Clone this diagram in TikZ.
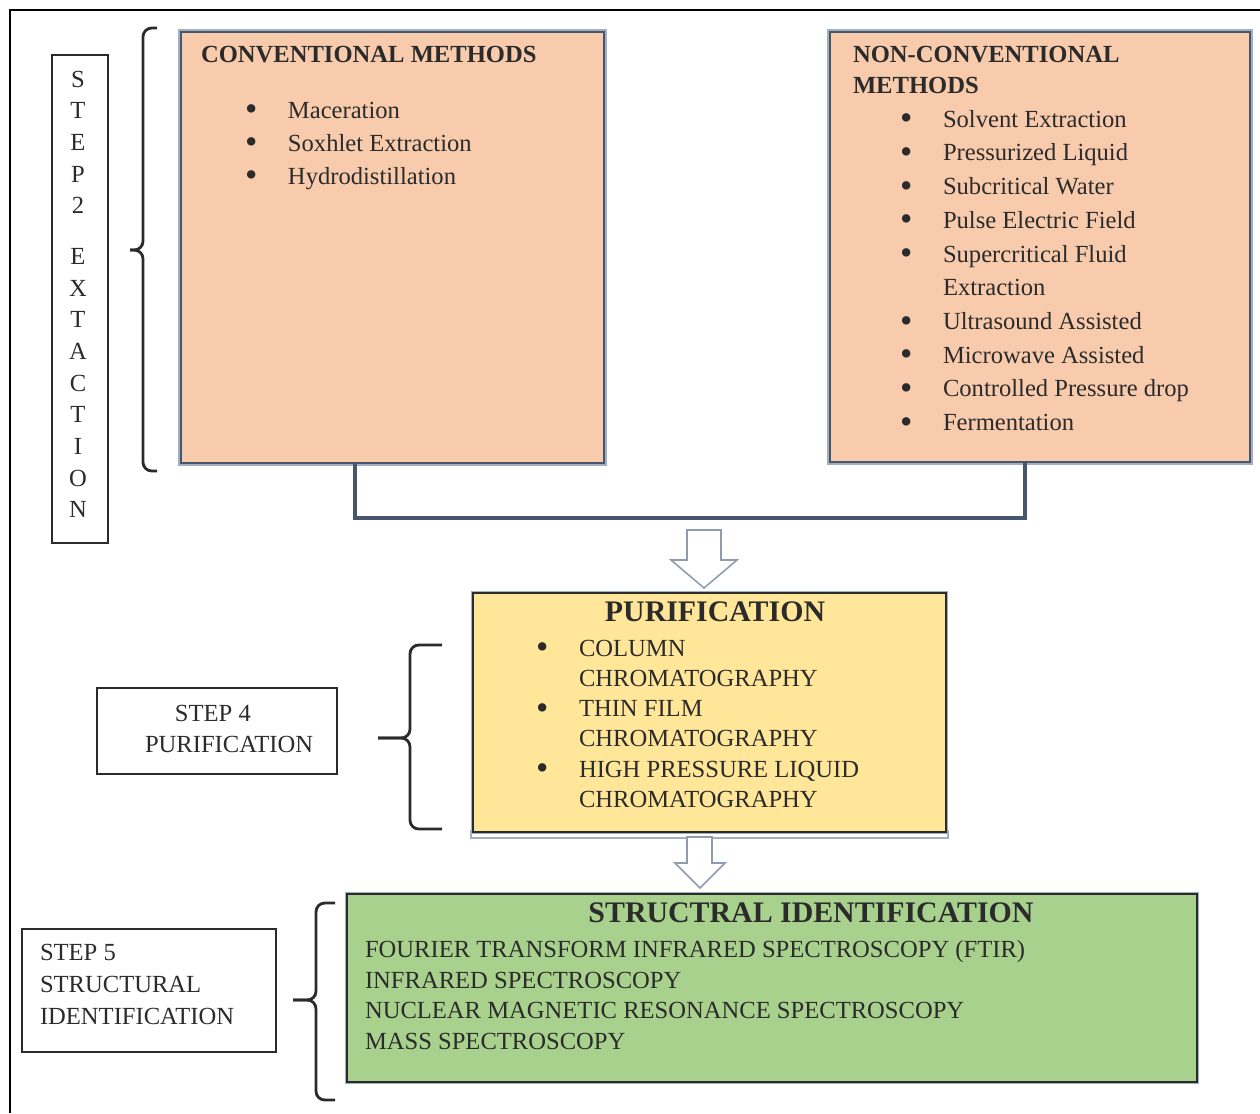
\documentclass[tikz,border=0pt]{standalone}
\usepackage{fontspec}
\setmainfont{Liberation Serif}
\usetikzlibrary{calc}
\definecolor{peach}{HTML}{F8CBAD}
\definecolor{sand}{HTML}{FFE699}
\definecolor{leaf}{HTML}{A9D18E}
\definecolor{slate}{HTML}{46566C}
\definecolor{haze}{HTML}{A3AEBE}
\definecolor{ink}{HTML}{2B2B2B}
\newcommand{\bul}{\makebox[0.86cm][l]{\raisebox{-1.5pt}{\fontsize{20}{20}\selectfont\textbullet}}}

\begin{document}
\begin{tikzpicture}[x=0.02cm, y=-0.02cm,
    every node/.style={inner sep=0pt, outer sep=0pt},
    methodbox/.style={draw=slate, line width=1.2pt, fill=peach, anchor=north west,
      preaction={draw=haze, line width=3pt}},
    stagebox/.style={draw=ink, line width=1.2pt, anchor=north west,
      preaction={draw=haze, line width=2.4pt}},
    labelbox/.style={draw=ink, line width=0.9pt, fill=white, anchor=north west},
    txt/.style={font=\fontsize{14}{#1}\selectfont, align=left, anchor=north west, text=ink},
    txt/.default=18pt,
    head/.style={font=\fontsize{14}{18}\selectfont\bfseries, align=left, anchor=north west, text=ink},
    bighead/.style={font=\fontsize{17}{20}\selectfont\bfseries, anchor=north, text=ink},
    brace/.style={line width=1.6pt, rounded corners=5pt, ink},
    link/.style={draw=slate, line width=2.2pt},
    hollow/.style={draw=haze!80!slate, line width=0.9pt, fill=white, line join=miter}]
  \useasboundingbox (0,0) rectangle (1260,1113);
  \draw[line width=1.1pt] (10,1113) -- (10,10) -- (1260,10);

  % step 2 : extraction
  \node[labelbox, minimum width=1.12cm, minimum height=9.76cm] (step2) at (52,55) {};
  \node[txt=18pt, align=center, anchor=north] (step2txt) at (78,71)
    {S\\T\\E\\P\\2\\[11pt]E\\X\\T\\A\\C\\T\\I\\O\\N};
  \draw[brace] (157,28) -- (143,28) -- (143,250) -- (130,250);
  \draw[brace] (130,250) -- (143,250) -- (143,471) -- (157,471);

  \node[methodbox, minimum width=8.46cm, minimum height=8.62cm] (conv) at (181,32) {};
  \node[head] (convhead) at (201,46) {CONVENTIONAL METHODS};
  \node[txt=18.7pt] (convlist) at (245,102)
    {\bul Maceration\\ \bul Soxhlet Extraction\\ \bul Hydrodistillation};

  \node[methodbox, minimum width=8.4cm, minimum height=8.6cm] (nonconv) at (830,32) {};
  \node[head] (nonconvhead) at (853,46) {NON-CONVENTIONAL\\METHODS};
  \node[txt=19.2pt] (nonconvlist) at (900,110)
    {\bul Solvent Extraction\\ \bul Pressurized Liquid\\ \bul Subcritical Water\\
     \bul Pulse Electric Field\\ \bul Supercritical Fluid\\ \hspace*{0.86cm}Extraction\\
     \bul Ultrasound Assisted\\ \bul Microwave Assisted\\ \bul Controlled Pressure drop\\
     \bul Fermentation};

  \draw[link] ($(conv.south west)+(174,0)$) |- ($(nonconv.south west)+(195,56)$)
    -- ($(nonconv.south west)+(195,0)$);
  \draw[hollow] (687,530) -- (721,530) -- (721,560) -- (737,560) -- (704,588)
    -- (671,560) -- (687,560) -- cycle;

  % step 4 : purification
  \node[labelbox, minimum width=4.8cm, minimum height=1.72cm] (step4) at (97,688) {};
  \node[txt] (step4txt) at (145,705) {\hspace*{0.6cm}STEP 4\\PURIFICATION};
  \draw[brace] (442,645) -- (410,645) -- (410,738) -- (378,738);
  \draw[brace] (378,738) -- (410,738) -- (410,829) -- (442,829);

  \draw[draw=haze, fill=white, line width=0.8pt] (471,831) rectangle (948,838);
  \node[stagebox, fill=sand, minimum width=9.46cm, minimum height=4.78cm] (purif) at (473,593) {};
  \node[bighead] (purifhead) at (715,602) {PURIFICATION};
  \node[txt=17.2pt] (puriflist) at (536,640)
    {\bul COLUMN\\ \hspace*{0.86cm}CHROMATOGRAPHY\\ \bul THIN FILM\\
     \hspace*{0.86cm}CHROMATOGRAPHY\\ \bul HIGH PRESSURE LIQUID\\ \hspace*{0.86cm}CHROMATOGRAPHY};

  \draw[hollow] (687,837) -- (712,837) -- (712,863) -- (725,863) -- (700,888)
    -- (675,863) -- (687,863) -- cycle;

  % step 5 : structural identification
  \node[labelbox, minimum width=5.08cm, minimum height=2.46cm] (step5) at (22,929) {};
  \node[txt=18.4pt] (step5txt) at (40,944) {STEP 5\\STRUCTURAL\\IDENTIFICATION};
  \draw[brace] (335,903) -- (316,903) -- (316,1000) -- (293,1000);
  \draw[brace] (293,1000) -- (316,1000) -- (316,1100) -- (335,1100);

  \node[stagebox, fill=leaf, minimum width=17cm, minimum height=3.76cm] (struct) at (347,894) {};
  \node[bighead] (structhead) at (811,903) {STRUCTRAL IDENTIFICATION};
  \node[txt=17.6pt] (structlist) at (365,940)
    {FOURIER TRANSFORM INFRARED SPECTROSCOPY (FTIR)\\ INFRARED SPECTROSCOPY\\
     NUCLEAR MAGNETIC RESONANCE SPECTROSCOPY\\ MASS SPECTROSCOPY};
\end{tikzpicture}
\end{document}
